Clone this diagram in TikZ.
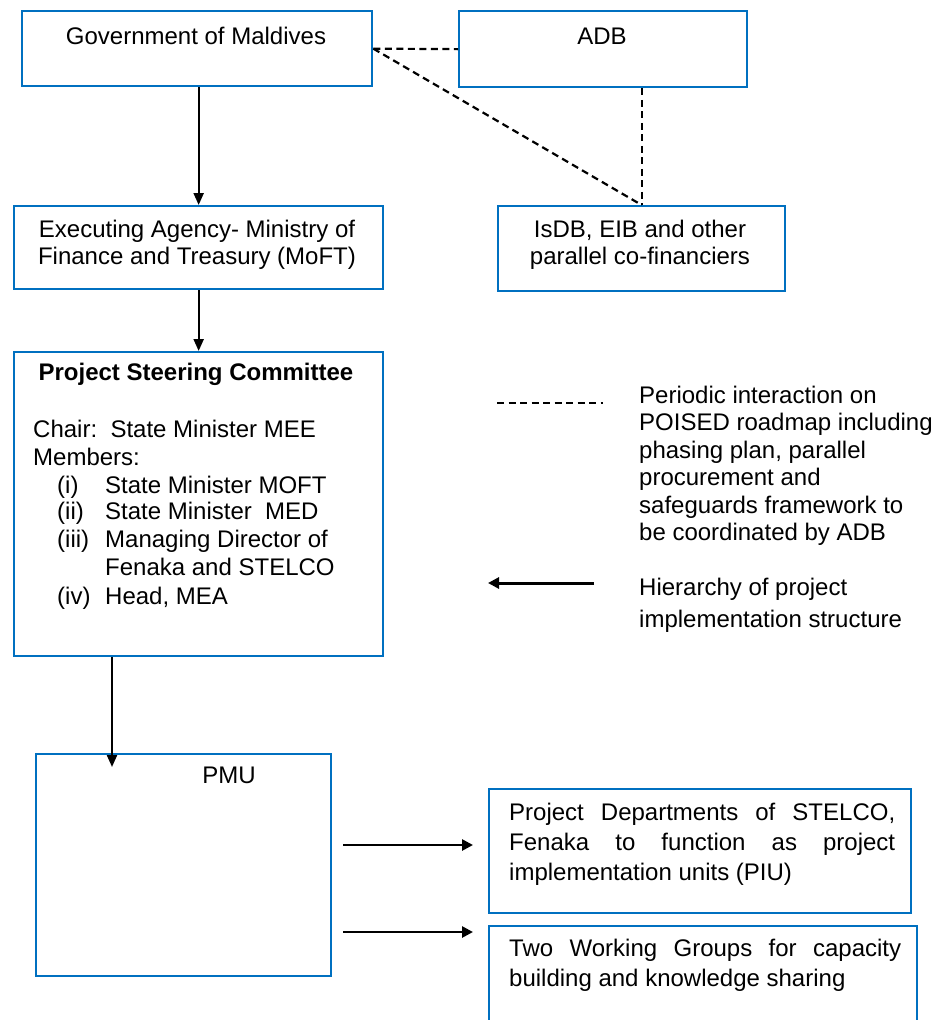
\documentclass[tikz,border=0pt]{standalone}
\usepackage{fontspec}
\setmainfont{Liberation Sans}
\usetikzlibrary{arrows.meta}
\definecolor{boxblue}{RGB}{0,112,192}
\tikzset{
  box/.style={draw=boxblue, line width=2.3pt, anchor=north west, inner sep=0pt},
  txt/.style={inner sep=0pt, font=\fontsize{24}{26.5}\selectfont},
  lefttxt/.style={txt, anchor=base west, align=left},
  ctxt/.style={txt, anchor=base, align=center},
  link/.style={draw=black, line width=2.2pt, dash pattern=on 7pt off 4.5pt},
  solidarrow/.style={draw=black, line width=2.2pt, -{Triangle[length=12pt,width=10pt]}},
  thickarrow/.style={draw=black, line width=3pt, -{Triangle[length=11pt,width=11pt]}}
}
\begin{document}
\begin{tikzpicture}[x=1pt,y=-1pt]
\useasboundingbox (0,0) rectangle (932,1020);
\clip (0,0) rectangle (932,1020);
% boxes
\node[box, minimum width=350pt, minimum height=75pt] (gov) at (21,10) {};
\node[box, minimum width=288pt, minimum height=76pt] (adb) at (458,10) {};
\node[box, minimum width=369pt, minimum height=83pt] (exec) at (13,205) {};
\node[box, minimum width=287pt, minimum height=85pt] (isdb) at (497,205) {};
\node[box, minimum width=369pt, minimum height=304pt] (psc) at (13,351) {};
\node[box, minimum width=295pt, minimum height=222pt] (pmu) at (35,753) {};
\node[box, minimum width=422pt, minimum height=124pt] (piu) at (488,788) {};
\node[box, minimum width=428pt, minimum height=140pt] (wg) at (488,925) {};
% texts
\node[ctxt] (tgov) at (196,44) {Government of Maldives};
\node[ctxt] (tadb) at (602,44) {ADB};
\node[ctxt] (texec) at (197,264) {Executing Agency- Ministry of\\Finance and Treasury (MoFT)};
\node[ctxt] (tisdb) at (640,264) {IsDB, EIB and other\\parallel co-financiers};
\node[ctxt, font=\fontsize{24}{26}\selectfont\bfseries] (tpsc) at (196,380) {Project Steering Committee};
\node[lefttxt] (tchair) at (33,437) {Chair:\ \ State Minister MEE};
\node[lefttxt] (tmem) at (33,465) {Members:};
\node[lefttxt] (r1) at (57,493) {(i)};
\node[lefttxt] (r2) at (57,519) {(ii)};
\node[lefttxt] (r3) at (57,547) {(iii)};
\node[lefttxt] (r4) at (57,604) {(iv)};
\node[lefttxt] (m1) at (105,493) {State Minister MOFT};
\node[lefttxt] (m2) at (105,519) {State Minister\ \ MED};
\node[lefttxt] (m3) at (105,547) {Managing Director of};
\node[lefttxt] (m3b) at (105,575) {Fenaka and STELCO};
\node[lefttxt] (m4) at (105,604) {Head, MEA};
\node[ctxt] (tpmu) at (229,783) {PMU};
\node[txt, anchor=north west, text width=386pt, align=justify, font=\fontsize{24}{30}\selectfont] (tpiu) at (509,803)
  {Project Departments of STELCO,\linebreak Fenaka to function as project\linebreak implementation units (PIU)};
\node[txt, anchor=north west, text width=392pt, align=justify, font=\fontsize{24}{30}\selectfont] (twg) at (509,939)
  {Two Working Groups for capacity\linebreak building and knowledge sharing};
% legend
\node[txt, anchor=north west, align=left, font=\fontsize{24}{27.4}\selectfont] (leg1) at (639,386)
  {Periodic interaction on\\POISED roadmap including\\phasing plan, parallel\\procurement and\\safeguards framework to\\be coordinated by ADB};
\node[txt, anchor=north west, align=left, font=\fontsize{24}{32}\selectfont] (leg2) at (639,578)
  {Hierarchy of project\\implementation structure};
\coordinate (ld1) at (497,403);
\coordinate (ld2) at (603,403);
\coordinate (la1) at (594,583);
\coordinate (la2) at (488,583);
\draw[link] (ld1) -- (ld2);
\draw[thickarrow] (la1) -- (la2);
% connectors
\draw[link] (gov.east) -- (adb.west);
\draw[link] (gov.east) -- (isdb.north);
\draw[link] (isdb.north |- adb.south) -- (isdb.north);
\draw[solidarrow] (exec.north |- gov.south) -- (exec.north);
\draw[solidarrow] (exec.south) -- (psc.north);
\coordinate (pmuin) at (112,767);
\draw[solidarrow] (psc.south -| pmuin) -- (pmuin);
\coordinate (a1s) at (343,845);
\coordinate (a2s) at (343,932);
\draw[thickarrow, line width=2.6pt] (a1s) -- (a1s -| 473,0);
\draw[thickarrow, line width=2.6pt] (a2s) -- (a2s -| 473,0);
\end{tikzpicture}
\end{document}
